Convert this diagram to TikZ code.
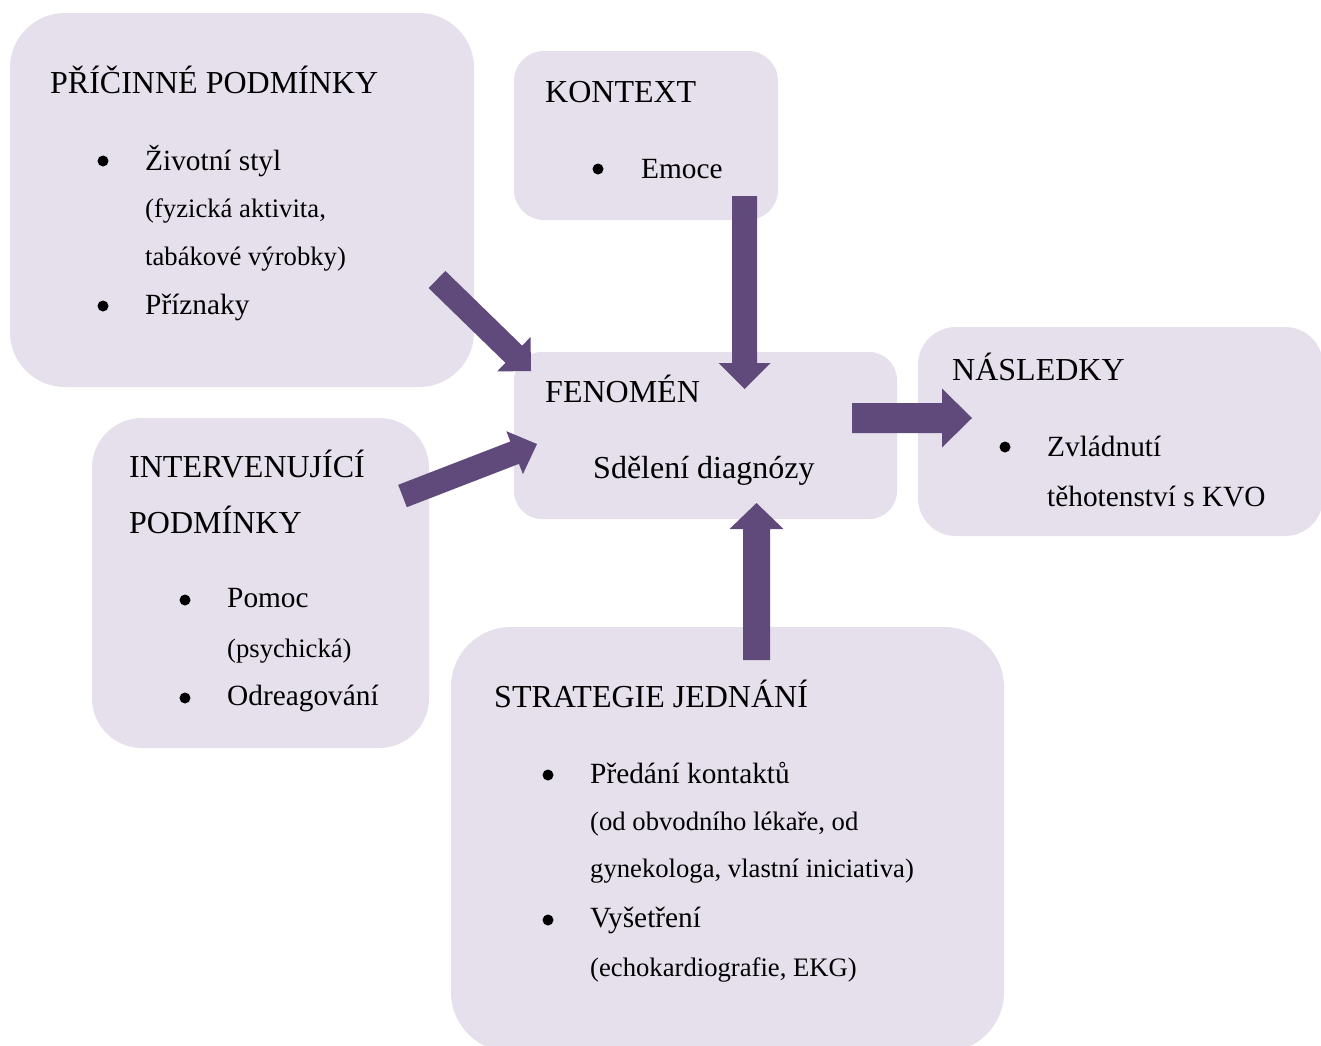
\documentclass[tikz,border=0pt]{standalone}
\usepackage{fontspec}
\setmainfont{Liberation Serif}
\usetikzlibrary{calc}

\definecolor{boxfill}{HTML}{E5E0EC}
\definecolor{arrowfill}{HTML}{604A7B}

\newcommand{\blockarrow}[5]{%
  \coordinate (#2-neck) at ($(#2)!#5!(#1)$);
  \fill[arrowfill] ($(#1)!#3!90:(#2)$) -- ($(#2-neck)!#3!90:(#2)$)
    -- ($(#2-neck)!#4!90:(#2)$) -- (#2) -- ($(#2-neck)!#4!-90:(#2)$)
    -- ($(#2-neck)!#3!-90:(#2)$) -- ($(#1)!#3!-90:(#2)$) -- cycle;}

\begin{document}
\begin{tikzpicture}[
    x=1pt, y=-1pt,
    box/.style={fill=boxfill, inner sep=0pt, rounded corners=#1},
    box/.default=40pt,
    head/.style={anchor=base west, inner sep=0pt, font=\fontsize{32}{38}\selectfont},
    item/.style={anchor=base west, inner sep=0pt, font=\fontsize{29.33}{35}\selectfont},
    note/.style={anchor=base west, inner sep=0pt, font=\fontsize{26.67}{32}\selectfont},
    dot/.style={circle, fill=black, inner sep=0pt, minimum size=11pt}
  ]
    \path[fill=white, use as bounding box] (0,0) rectangle (1321,1045);

    \node[box=55pt, minimum width=464pt, minimum height=374pt] (pricbox) at (242,200) {};
    \node[box=30pt, minimum width=264pt, minimum height=169pt] (kontbox) at (646,135.5) {};
    \node[box=28pt, minimum width=383pt, minimum height=167pt] (fenbox) at (705.5,435.5) {};
    \node[box=38pt, minimum width=405pt, minimum height=209pt] (nasbox) at (1120.5,431.5) {};
    \node[box=50pt, minimum width=337pt, minimum height=330pt] (intbox) at (260.5,583) {};
    \node[box=60pt, minimum width=553pt, minimum height=425pt] (strbox) at (727.5,839.5) {};

    \coordinate (pricTail) at (437,279.5);
    \coordinate (pricTip) at (531,371);
    \coordinate (kontTail) at (744.5,196);
    \coordinate (kontTip) at (744.5,389);
    \coordinate (intTail) at (402.5,496);
    \coordinate (intTip) at (537,444);
    \coordinate (fenTail) at (852,418);
    \coordinate (nasTip) at (972,418);
    \coordinate (strTail) at (756.5,660);
    \coordinate (strTip) at (756.5,503);

    \blockarrow{pricTail}{pricTip}{12pt}{24pt}{24pt}
    \blockarrow{kontTail}{kontTip}{12.5pt}{26pt}{26pt}
    \blockarrow{intTail}{intTip}{12pt}{23pt}{24pt}
    \blockarrow{fenTail}{nasTip}{15pt}{29.5pt}{30pt}
    \blockarrow{strTail}{strTip}{13.5pt}{27pt}{26pt}

    \node[head] (pricTitle) at (50,93) {PŘÍČINNÉ PODMÍNKY};
    \node[dot] (pricDotA) at (103,161) {};
    \node[item] (pricItemA) at (145,170) {Životní styl};
    \node[note] (pricNoteA) at (145,217) {(fyzická aktivita,};
    \node[note] (pricNoteB) at (145,265) {tabákové výrobky)};
    \node[dot] (pricDotB) at (103,306) {};
    \node[item] (pricItemB) at (145,314) {Příznaky};

    \node[head] (kontTitle) at (545,102) {KONTEXT};
    \node[dot] (kontDot) at (598,169) {};
    \node[item] (kontItem) at (641,178) {Emoce};

    \node[head] (fenTitle) at (545,402) {FENOMÉN};
    \node[head] (fenItem) at (593,478) {Sdělení diagnózy};

    \node[head] (nasTitle) at (952,380) {NÁSLEDKY};
    \node[dot] (nasDot) at (1005,447) {};
    \node[item] (nasItemA) at (1047,456) {Zvládnutí};
    \node[item] (nasItemB) at (1047,506) {těhotenství s KVO};

    \node[head] (intTitleA) at (129,477) {INTERVENUJÍCÍ};
    \node[head] (intTitleB) at (129,533) {PODMÍNKY};
    \node[dot] (intDotA) at (185,600) {};
    \node[item] (intItemA) at (227,607) {Pomoc};
    \node[note] (intNote) at (227,657) {(psychická)};
    \node[dot] (intDotB) at (185,698) {};
    \node[item] (intItemB) at (227,705) {Odreagování};

    \node[head] (strTitle) at (494,707) {STRATEGIE JEDNÁNÍ};
    \node[dot] (strDotA) at (548,775) {};
    \node[item] (strItemA) at (590,783) {Předání kontaktů};
    \node[note] (strNoteA) at (590,830) {(od obvodního lékaře, od};
    \node[note] (strNoteB) at (590,877) {gynekologa, vlastní iniciativa)};
    \node[dot] (strDotB) at (548,920) {};
    \node[item] (strItemB) at (590,927) {Vyšetření};
    \node[note] (strNoteC) at (590,976) {(echokardiografie, EKG)};
\end{tikzpicture}
\end{document}
